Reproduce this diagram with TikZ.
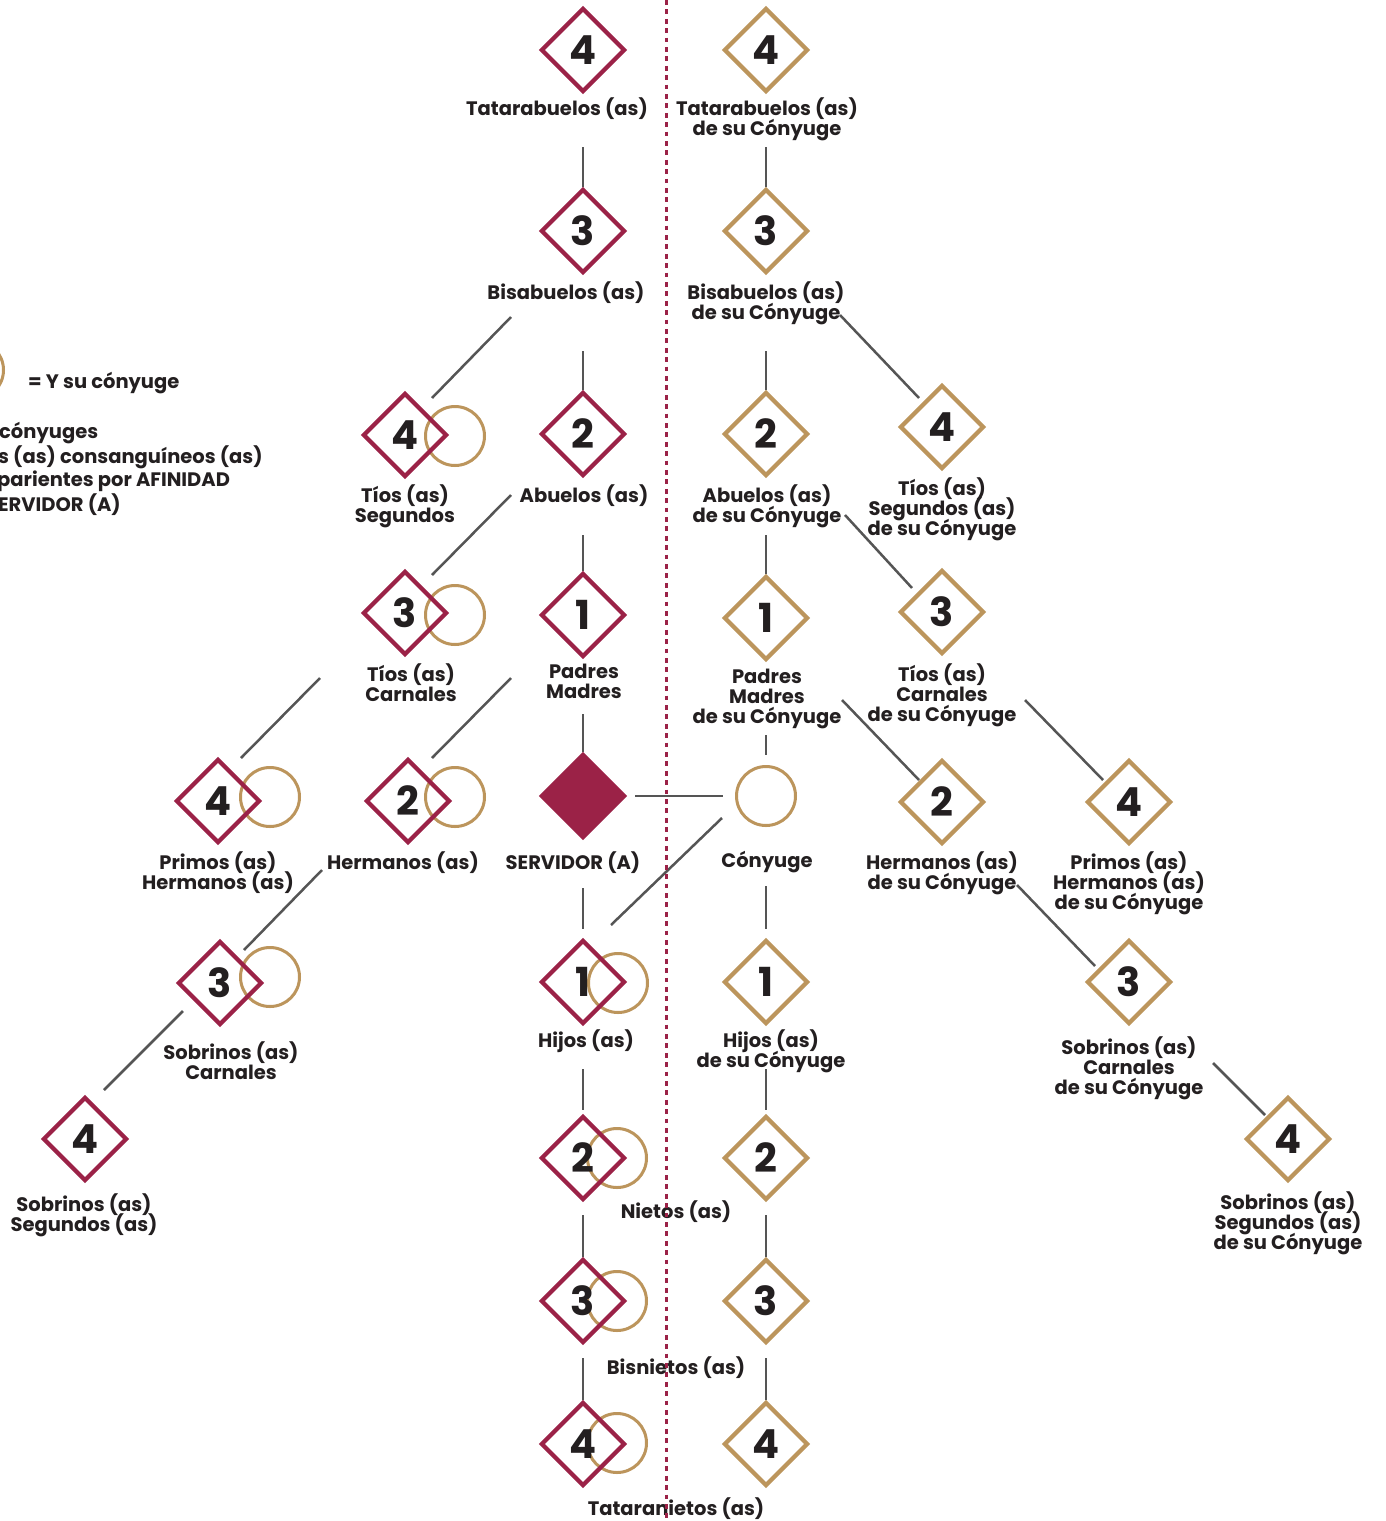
\documentclass[tikz,border=0pt]{standalone}
\usepackage{fontspec}
\setmainfont{Poppins}
\usetikzlibrary{shapes.geometric,calc}
\definecolor{crimson}{HTML}{9B2247}
\definecolor{gold}{HTML}{BC955C}
\definecolor{linegray}{HTML}{555555}
\definecolor{ink}{HTML}{231F20}
\newcommand{\lblfont}{\fontsize{19.5}{20}\selectfont\bfseries\lineskiplimit=-100pt\lineskip=0pt}
\newcommand{\digfont}{\fontsize{40}{40}\selectfont\bfseries}
\begin{document}
\begin{tikzpicture}[x=1pt,y=-1pt,
 cons/.style={diamond, draw=crimson, line width=4.2pt, minimum width=84pt, minimum height=84pt, inner sep=0pt, font=\digfont, text=ink},
 afin/.style={cons, draw=gold},
 srvbox/.style={cons, fill=crimson},
 spouse/.style={circle, draw=gold, line width=3pt, minimum size=59pt, inner sep=0pt},
 lbl/.style={font=\lblfont, text=ink, align=center, inner sep=0pt, anchor=north, yshift=1.5pt},
 legtxt/.style={font=\lblfont, text=ink, inner sep=0pt, anchor=west},
 conn/.style={draw=linegray, line width=2.5pt},
 dots/.style={draw=crimson, line width=3pt, dash pattern=on 4.7pt off 4.7pt}
]
\fill[white] (0,0) rectangle (1385,1521);
\useasboundingbox (0,0) rectangle (1385,1521);
\clip (0,0) rectangle (1385,1521);

% ---------- legend ----------
\node[spouse] (legc) at (-26,370) {};
\node[legtxt] (leg0) at (28,383) {= Y su cónyuge};
\node[legtxt] (leg1) at (-1,433) {cónyuges};
\node[legtxt] (leg2) at (-2,457) {s (as) consanguíneos (as)};
\node[legtxt] (leg3) at (-3,481) {parientes por AFINIDAD};
\node[legtxt] (leg4) at (-2,505) {ERVIDOR (A)};

% ---------- consanguine column ----------
\node[cons] (cA4) at (583,50) {4};
\node[lbl] (lA4) at (557,99) {Tatarabuelos (as)};
\node[cons] (cA3) at (583,231) {3};
\node[lbl] (lA3) at (566,283) {Bisabuelos (as)};
\node[cons] (cA2) at (583,434) {2};
\node[lbl] (lA2) at (584,486) {Abuelos (as)};
\node[cons] (cA1) at (583,615) {1};
\node[lbl] (lA1) at (584,665) {Padres\\Madres};
\node[srvbox] (srv) at (583,796) {};
\node[lbl] (lsrv) at (573,853) {SERVIDOR (A)};
\node[spouse] (sH1) at (618,983) {};
\node[cons] (cH1) at (583,982) {1};
\node[lbl] (lH1) at (586,1031) {Hijos (as)};
\node[spouse] (sH2) at (617,1158) {};
\node[cons] (cH2) at (583,1158) {2};
\node[lbl] (lH2) at (676,1202) {Nietos (as)};
\node[spouse] (sH3) at (617,1301) {};
\node[cons] (cH3) at (583,1301) {3};
\node[lbl] (lH3) at (676,1358) {Bisnietos (as)};
\node[spouse] (sH4) at (617,1443) {};
\node[cons] (cH4) at (583,1444) {4};
\node[lbl] (lH4) at (676,1499) {Tataranietos (as)};

% ---------- spouse column ----------
\node[afin] (aA4) at (766,50) {4};
\node[lbl] (laA4) at (767,99) {Tatarabuelos (as)\\de su Cónyuge};
\node[afin] (aA3) at (766,231) {3};
\node[lbl] (laA3) at (766,283) {Bisabuelos (as)\\de su Cónyuge};
\node[afin] (aA2) at (766,434) {2};
\node[lbl] (laA2) at (767,486) {Abuelos (as)\\de su Cónyuge};
\node[afin] (aA1) at (766,618) {1};
\node[lbl] (laA1) at (767,670) {Padres\\Madres\\de su Cónyuge};
\node[spouse] (cony) at (766,796) {};
\node[lbl] (lcony) at (767,853) {Cónyuge};
\node[afin] (aH1) at (766,982) {1};
\node[lbl] (laH1) at (771,1031) {Hijos (as)\\de su Cónyuge};
\node[afin] (aH2) at (766,1158) {2};
\node[afin] (aH3) at (766,1301) {3};
\node[afin] (aH4) at (766,1444) {4};

% ---------- spouse collaterals ----------
\node[afin] (atS) at (942,427) {4};
\node[lbl] (latS) at (942,479) {Tíos (as)\\Segundos (as)\\de su Cónyuge};
\node[afin] (atC) at (942,612) {3};
\node[lbl] (latC) at (942,665) {Tíos (as)\\Carnales\\de su Cónyuge};
\node[afin] (aherm) at (942,802) {2};
\node[lbl] (laherm) at (942,853) {Hermanos (as)\\de su Cónyuge};
\node[afin] (aprim) at (1129,802) {4};
\node[lbl] (laprim) at (1129,853) {Primos (as)\\Hermanos (as)\\de su Cónyuge};
\node[afin] (asobC) at (1129,982) {3};
\node[lbl] (lasobC) at (1129,1038) {Sobrinos (as)\\Carnales\\de su Cónyuge};
\node[afin] (asobS) at (1288,1139) {4};
\node[lbl] (lasobS) at (1288,1193) {Sobrinos (as)\\Segundos (as)\\de su Cónyuge};

% ---------- consanguine collaterals ----------
\node[spouse] (stS) at (455,436) {};
\node[cons] (tS) at (405,435) {4};
\node[lbl] (ltS) at (405,486) {Tíos (as)\\Segundos};
\node[spouse] (stC) at (455,615) {};
\node[cons] (tC) at (405,613) {3};
\node[lbl] (ltC) at (411,665) {Tíos (as)\\Carnales};
\node[spouse] (sherm) at (455,797) {};
\node[cons] (herm) at (408,801) {2};
\node[lbl] (lherm) at (403,853) {Hermanos (as)};
\node[spouse] (sprim) at (270,797) {};
\node[cons] (prim) at (218,801) {4};
\node[lbl] (lprim) at (218,853) {Primos (as)\\Hermanos (as)};
\node[spouse] (ssobC) at (270,977) {};
\node[cons] (sobC) at (220,983) {3};
\node[lbl] (lsobC) at (231,1043) {Sobrinos (as)\\Carnales};
\node[cons] (sobS) at (85,1139) {4};
\node[lbl] (lsobS) at (84,1195) {Sobrinos (as)\\Segundos (as)};

% ---------- vertical connectors ----------
\draw[conn, shorten <=53pt] (cA4) -- (cA3);
\draw[conn, shorten <=76pt] (cA3) -- (cA2);
\draw[conn, shorten <=57pt] (cA2) -- (cA1);
\draw[conn, shorten <=55pt] (cA1) -- (srv);
\draw[conn, shorten <=48pt, shorten >=9pt] (srv) -- (cH1);
\draw[conn, shorten <=43pt, shorten >=4pt] (cH1) -- (cH2);
\draw[conn, shorten <=13pt] (cH2) -- (cH3);
\draw[conn, shorten <=13pt] (cH3) -- (cH4);
\draw[conn, shorten <=53pt] (aA4) -- (aA3);
\draw[conn, shorten <=76pt] (aA3) -- (aA2);
\draw[conn, shorten <=57pt] (aA2) -- (aA1);
\draw[conn, shorten <=73pt, shorten >=10pt] (aA1) -- (cony);
\draw[conn, shorten <=59pt, shorten >=9pt] (cony) -- (aH1);
\draw[conn, shorten <=43pt, shorten >=4pt] (aH1) -- (aH2);
\draw[conn, shorten <=13pt] (aH2) -- (aH3);
\draw[conn, shorten <=13pt] (aH3) -- (aH4);
\draw[conn, shorten <=8pt, shorten >=12pt] (srv) -- (cony);

% ---------- diagonal connectors ----------
\draw[conn] ($(cA3)+(-72,86)$) -- ($(tS)+(27,-37)$);
\draw[conn] ($(cA2)+(-72,61)$) -- ($(tC)+(27,-38)$);
\draw[conn] ($(cA1)+(-72,63)$) -- ($(herm)+(24,-43)$);
\draw[conn] ($(tC)+(-85,65)$) -- ($(prim)+(23,-43)$);
\draw[conn] ($(herm)+(-86,69)$) -- ($(sobC)+(24,-33)$);
\draw[conn] ($(sobC)+(-37,28)$) -- ($(sobS)+(19,-49)$);
\draw[conn] ($(cony)+(-44,22)$) -- ($(cH1)+(28,-57)$);
\draw[conn] ($(aA3)+(74,84)$) -- ($(atS)+(-23,-29)$);
\draw[conn] ($(aA2)+(79,81)$) -- ($(atC)+(-30,-24)$);
\draw[conn] ($(aA1)+(76,82)$) -- ($(aherm)+(-23,-22)$);
\draw[conn] ($(atC)+(83,88)$) -- ($(aprim)+(-26,-22)$);
\draw[conn] ($(aherm)+(75,83)$) -- ($(asobC)+(-34,-16)$);
\draw[conn] ($(asobC)+(84,81)$) -- ($(asobS)+(-23,-24)$);

% ---------- dividing line ----------
\coordinate (dtop) at (666.5,0);
\coordinate (dbot) at (666.5,1521);
\draw[dots] (dtop) -- (dbot);
\end{tikzpicture}
\end{document}
